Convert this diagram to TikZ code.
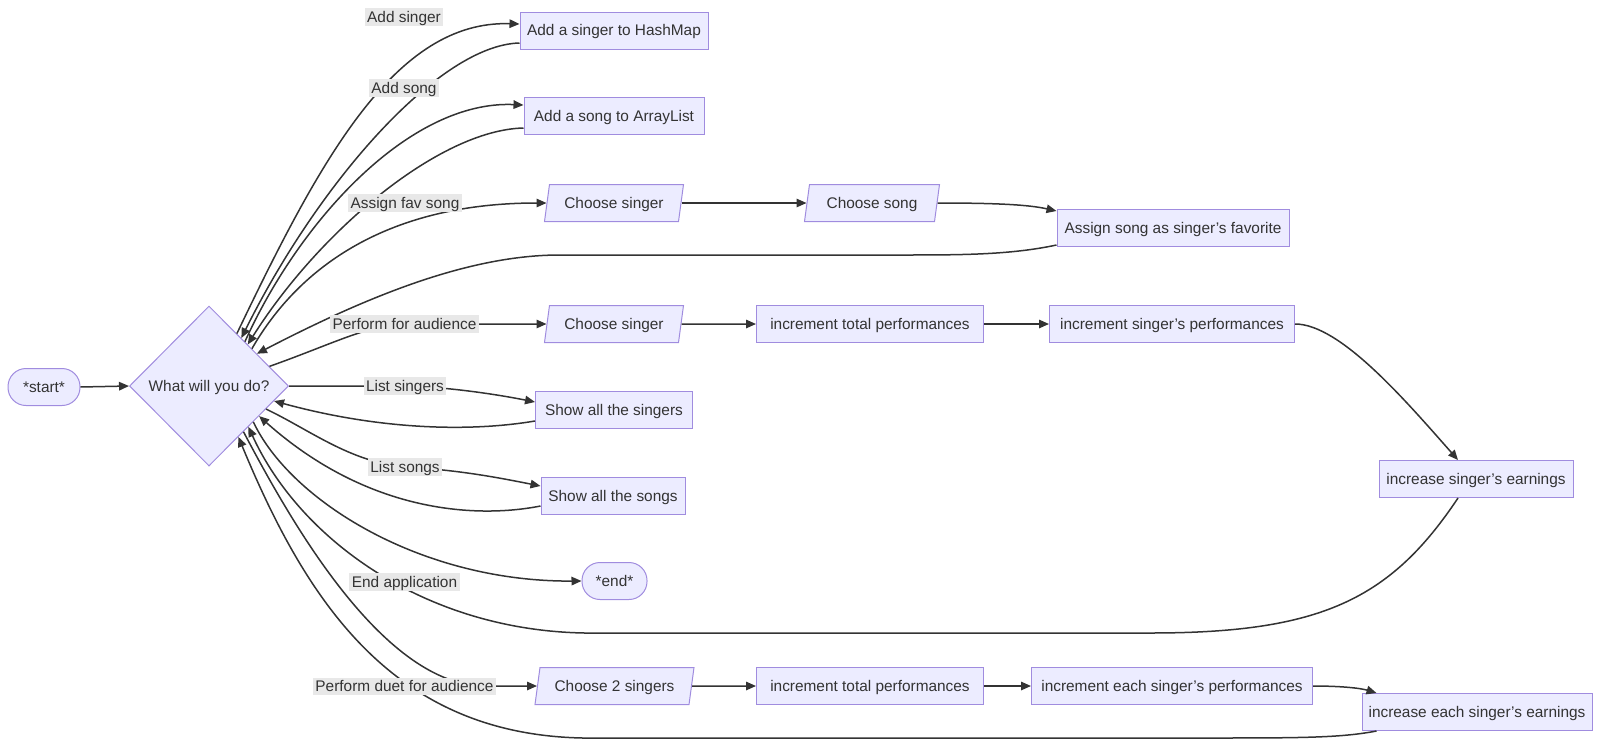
\documentclass[tikz,border=0pt]{standalone}
\usepackage{fontspec}
\setmainfont{Liberation Sans}
\usetikzlibrary{shapes.geometric,arrows.meta}
\definecolor{nodefill}{HTML}{ECECFF}
\definecolor{nodeline}{HTML}{A08CDF}
\definecolor{edgecol}{HTML}{333333}
\definecolor{lblbg}{HTML}{E8E8E8}
\definecolor{txtcol}{HTML}{333333}
\begin{document}
\begin{tikzpicture}[x=1pt,y=-1pt,
  every node/.style={font=\fontsize{15.4}{18}\selectfont, text=txtcol, text height=12.5pt, text depth=2pt},
  procbox/.style={rectangle, draw=nodeline, fill=nodefill, line width=1pt, minimum height=37pt, inner sep=0pt},
  iobox/.style={trapezium, trapezium left angle=71, trapezium right angle=109, trapezium stretches body, draw=nodeline, fill=nodefill, line width=1pt, minimum height=37pt, inner sep=0pt},
  termbox/.style={rectangle, rounded corners=18pt, draw=nodeline, fill=nodefill, line width=1pt, minimum height=37pt, inner sep=0pt},
  decbox/.style={diamond, draw=nodeline, fill=nodefill, line width=1pt, minimum width=159pt, minimum height=160pt, inner sep=0pt},
  elabel/.style={fill=lblbg, inner xsep=2.5pt, inner ysep=1.5pt},
  arrowline/.style={draw=edgecol, line width=1.5pt, -{Triangle[length=10pt,width=8.5pt]}},
]
\useasboundingbox (0,0) rectangle (1600,739);

% nodes
\node[termbox, minimum width=72pt] (start) at (44,387) {*start*};
\node[decbox] (d) at (209,386) {What will you do?};
\node[procbox, minimum width=188pt] (a1) at (614,30.5) {Add a singer to HashMap};
\node[procbox, minimum width=180pt] (a2) at (614,116) {Add a song to ArrayList};
\node[iobox, minimum width=139pt] (cs1) at (614,203) {Choose singer};
\node[iobox, minimum width=135pt] (csong) at (872,203) {Choose song};
\node[procbox, minimum width=232pt] (fav) at (1173,228) {Assign song as singer's favorite};
\node[iobox, minimum width=139pt] (cs2) at (614,324) {Choose singer};
\node[procbox, minimum width=227pt] (itp) at (870,324) {increment total performances};
\node[procbox, minimum width=245pt] (isp) at (1172,324) {increment singer's performances};
\node[procbox, minimum width=194pt] (ise) at (1476,479) {increase singer's earnings};
\node[procbox, minimum width=157pt] (ss) at (614,410) {Show all the singers};
\node[procbox, minimum width=144pt] (sso) at (613,496) {Show all the songs};
\node[termbox, minimum width=65pt] (stop) at (614.5,581) {*end*};
\node[iobox, minimum width=159pt] (c2s) at (614.5,686) {Choose 2 singers};
\node[procbox, minimum width=227pt] (itp2) at (870,686) {increment total performances};
\node[procbox, minimum width=281pt] (iesp) at (1172,686) {increment each singer's performances};
\node[procbox, minimum width=230pt] (iese) at (1477,712) {increase each singer's earnings};

% connectors
\draw[arrowline] (start.east) -- (d.west);
\draw[arrowline] (d.62.2) .. controls (320,160) and (395,20) .. ([yshift=6.5pt]a1.west);
\draw[arrowline] ([yshift=-12.5pt]a1.west) .. controls (440,45) and (320,180) .. (d.56.9);
\draw[arrowline] (d.51.3) .. controls (300,220) and (410,100) .. ([yshift=11pt]a2.west);
\draw[arrowline] ([yshift=-12pt]a2.west) .. controls (440,130) and (320,230) .. (d.47.1);
\draw[arrowline] (d.41.5) .. controls (300,265) and (390,203) .. (cs1.west);
\draw[arrowline] (cs1.east) -- (csong.west);
\draw[arrowline] (csong.east) .. controls (1000,203) and (1030,205) .. ([yshift=17pt]fav.west);
\draw[arrowline] ([yshift=-17pt]fav.west) .. controls (1010,255) and (960,255) .. (900,255) -- (560,255) .. controls (470,255) and (370,295) .. (d.34);
\draw[arrowline] (d.18.2) .. controls (330,345) and (370,324) .. (405,324) -- (cs2.west);
\draw[arrowline] (cs2.east) -- (itp.west);
\draw[arrowline] (itp.east) -- (isp.west);
\draw[arrowline] (isp.east) .. controls (1340,324) and (1405,400) .. ([xshift=-18pt]ise.north);
\draw[arrowline] ([xshift=-18pt]ise.south) .. controls (1390,600) and (1320,633) .. (1150,633) -- (600,633) .. controls (430,636) and (300,540) .. (d.-46.4);
\draw[arrowline] (d.east) -- (405,386) .. controls (450,387) and (500,395) .. ([yshift=8pt]ss.west);
\draw[arrowline] ([yshift=-11pt]ss.west) .. controls (470,432) and (380,430) .. (d.-13);
\draw[arrowline] (d.-22) .. controls (310,430) and (350,462) .. (405,467) .. controls (460,470) and (500,478) .. ([yshift=10pt]sso.west);
\draw[arrowline] ([yshift=-10pt]sso.west) .. controls (480,518) and (370,515) .. (d.-31);
\draw[arrowline] (d.-39.3) .. controls (290,500) and (420,582) .. (stop.west);
\draw[arrowline] (d.-53.5) .. controls (290,520) and (380,680) .. (480,686) -- (c2s.west);
\draw[arrowline] (c2s.east) -- (itp2.west);
\draw[arrowline] (itp2.east) -- (iesp.west);
\draw[arrowline] (iesp.east) .. controls (1340,686) and (1360,688) .. ([xshift=15pt]iese.north west);
\draw[arrowline] ([xshift=15pt]iese.south west) .. controls (1340,738) and (1300,738) .. (1200,738) -- (600,738) .. controls (400,742) and (310,610) .. (d.-60.4);

% edge labels
\node[elabel] (l1) at (404,17) {Add singer};
\node[elabel] (l2) at (404,88) {Add song};
\node[elabel] (l3) at (405,203) {Assign fav song};
\node[elabel] (l4) at (404.5,324) {Perform for audience};
\node[elabel] (l5) at (405,386) {List singers};
\node[elabel] (l6) at (405,467) {List songs};
\node[elabel] (l7) at (404.5,582) {End application};
\node[elabel] (l8) at (404.5,686.5) {Perform duet for audience};
\end{tikzpicture}
\end{document}
